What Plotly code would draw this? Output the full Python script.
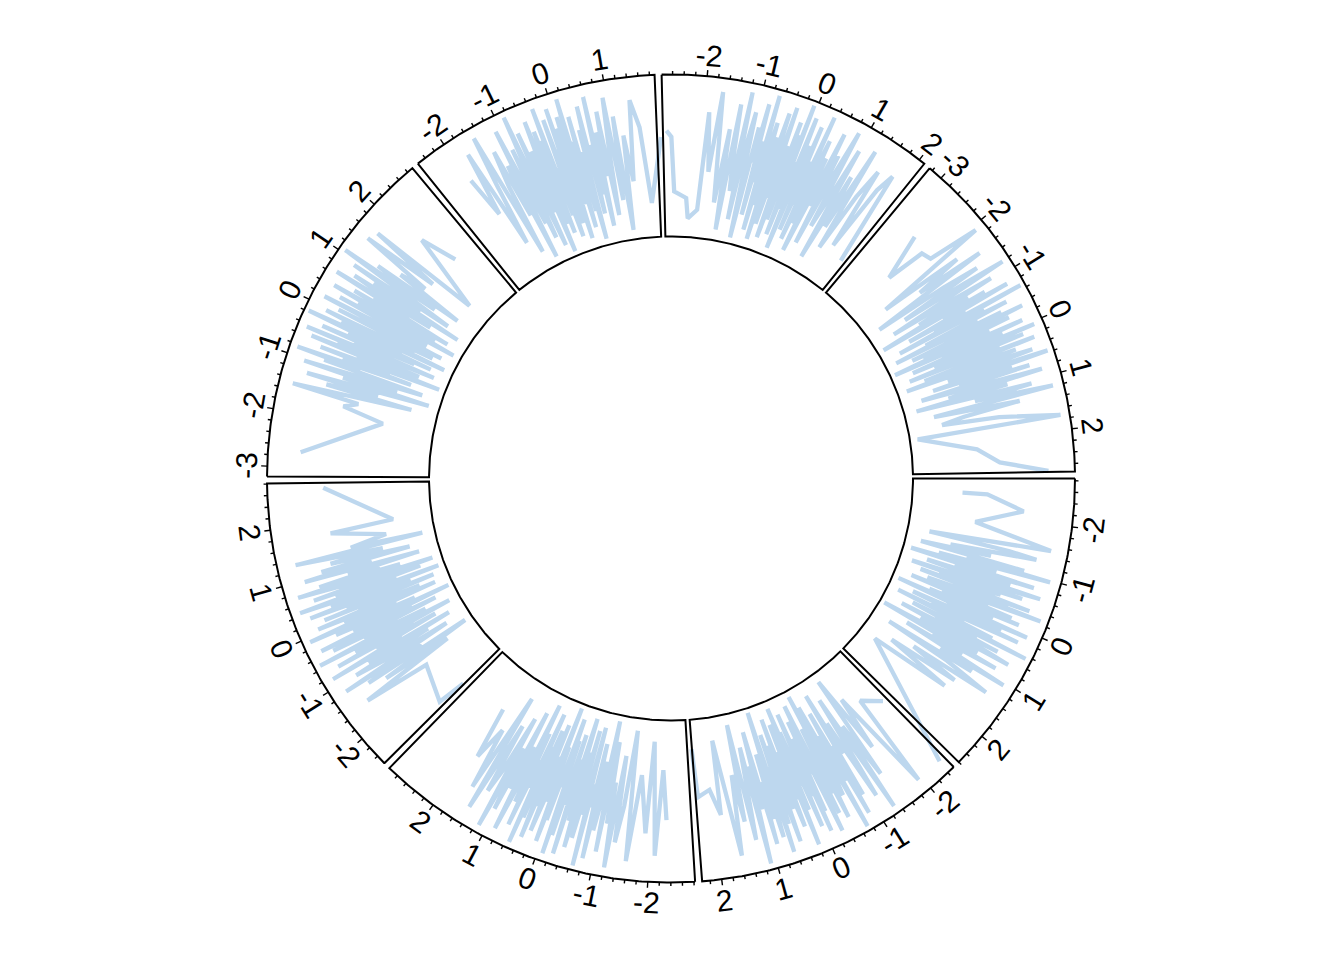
import numpy as np
import plotly.graph_objects as go

# ---------------- data ----------------
SECTORS = ["a", "b", "c", "d", "e", "f", "g", "h"]
XLIM_MIN = [-2.84, -2.54, -2.82, -2.57, -3.18, -2.56, -2.79, -3.26]
XLIM_MAX = [2.60, 2.34, 2.99, 2.81, 2.91, 1.89, 2.11, 2.74]
MAJOR_TICKS = [
    [-2, -1, 0, 1, 2],
    [-2, -1, 0, 1, 2],
    [-2, -1, 0, 1, 2],
    [-2, -1, 0, 1, 2],
    [-3, -2, -1, 0, 1, 2],
    [-2, -1, 0, 1],
    [-2, -1, 0, 1, 2],
    [-3, -2, -1, 0, 1, 2],
]
TICK_LABELS = [[str(v) for v in t] for t in MAJOR_TICKS]

a_x = [-2.50, -2.49, -2.19, -1.85, -1.52, -1.43, -1.36, -1.31, -1.22, -1.18,
       -1.13, -1.05, -1.03, -0.97, -0.95, -0.89, -0.88, -0.81, -0.79, -0.77,
       -0.71, -0.70, -0.64, -0.63, -0.58, -0.55, -0.53, -0.48, -0.47, -0.42,
       -0.41, -0.36, -0.33, -0.32, -0.27, -0.26, -0.21, -0.18, -0.17, -0.12,
       -0.11, -0.06, -0.05, -0.02, 0.03, 0.04, 0.09, 0.10, 0.15, 0.16,
       0.21, 0.24, 0.25, 0.30, 0.33, 0.34, 0.39, 0.42, 0.45, 0.47,
       0.52, 0.55, 0.57, 0.62, 0.64, 0.69, 0.71, 0.77, 0.78, 0.84,
       0.86, 0.92, 0.96, 0.99, 1.05, 1.08, 1.15, 1.21, 1.24, 1.33,
       1.39, 1.48, 1.57, 1.69, 1.81, 2.83]
a_y = [0.30, 0.46, 0.70, 0.40, 0.91, 0.12, 0.65, 0.83, 0.27, 0.54,
       0.08, 0.77, 0.39, 0.95, 0.21, 0.60, 0.03, 0.48, 0.86, 0.33,
       0.71, 0.15, 0.58, 0.92, 0.44, 0.06, 0.81, 0.25, 0.67, 0.50,
       0.13, 0.88, 0.36, 0.74, 0.19, 0.97, 0.42, 0.62, 0.09, 0.79,
       0.31, 0.56, 0.85, 0.23, 0.68, 0.02, 0.49, 0.93, 0.37, 0.76,
       0.14, 0.59, 0.89, 0.28, 0.52, 0.05, 0.73, 0.41, 0.98, 0.17,
       0.64, 0.34, 0.80, 0.11, 0.57, 0.90, 0.26, 0.69, 0.45, 0.01,
       0.84, 0.38, 0.61, 0.20, 0.94, 0.47, 0.72, 0.10, 0.55, 0.87,
       0.32, 0.66, 0.18, 0.63, 0.09, 0.93]

b_x = [-2.44, -2.05, -1.93, -1.71, -1.62, -1.50, -1.44, -1.35, -1.30, -1.24,
       -1.17, -1.14, -1.08, -1.02, -1.00, -0.94, -0.90, -0.86, -0.84, -0.78,
       -0.75, -0.72, -0.67, -0.65, -0.60, -0.57, -0.55, -0.50, -0.48, -0.44,
       -0.40, -0.38, -0.35, -0.30, -0.29, -0.25, -0.23, -0.19, -0.16, -0.13,
       -0.11, -0.08, -0.04, -0.02, 0.01, 0.05, 0.07, 0.11, 0.12, 0.17,
       0.19, 0.22, 0.26, 0.28, 0.31, 0.36, 0.37, 0.41, 0.44, 0.48,
       0.50, 0.54, 0.58, 0.60, 0.65, 0.67, 0.72, 0.75, 0.79, 0.82,
       0.87, 0.90, 0.95, 1.00, 1.03, 1.10, 1.13, 1.20, 1.26, 1.32,
       1.40, 1.47, 1.58, 1.79, 1.85, 2.02, 2.29, 2.35]
b_y = [0.40, 0.30, 0.93, 0.22, 0.58, 0.04, 0.75, 0.36, 0.97, 0.14,
       0.62, 0.85, 0.29, 0.51, 0.07, 0.80, 0.43, 0.92, 0.18, 0.67,
       0.33, 0.99, 0.11, 0.56, 0.74, 0.02, 0.47, 0.88, 0.24, 0.70,
       0.39, 0.83, 0.06, 0.61, 0.94, 0.16, 0.53, 0.27, 0.78, 0.45,
       0.91, 0.09, 0.66, 0.35, 0.86, 0.20, 0.57, 0.03, 0.73, 0.48,
       0.96, 0.13, 0.64, 0.31, 0.82, 0.42, 0.08, 0.69, 0.25, 0.90,
       0.55, 0.17, 0.77, 0.38, 0.95, 0.01, 0.60, 0.84, 0.28, 0.71,
       0.46, 0.87, 0.12, 0.63, 0.34, 0.98, 0.21, 0.52, 0.81, 0.05,
       0.68, 0.37, 0.89, 0.13, 0.61, 0.44, 0.48, 0.17]

c_x = [-2.31, -2.22, -2.10, -1.97, -1.90, -1.72, -1.58, -1.49, -1.41, -1.33,
       -1.29, -1.21, -1.15, -1.12, -1.06, -1.01, -0.96, -0.93, -0.88, -0.85,
       -0.80, -0.76, -0.74, -0.69, -0.66, -0.62, -0.59, -0.57, -0.52, -0.49,
       -0.46, -0.43, -0.39, -0.37, -0.33, -0.30, -0.27, -0.24, -0.20, -0.18,
       -0.15, -0.11, -0.09, -0.06, -0.03, 0.00, 0.04, 0.06, 0.09, 0.13,
       0.15, 0.18, 0.21, 0.25, 0.27, 0.31, 0.33, 0.37, 0.40, 0.43,
       0.47, 0.49, 0.53, 0.56, 0.60, 0.63, 0.67, 0.70, 0.74, 0.78,
       0.81, 0.86, 0.89, 0.94, 0.99, 1.03, 1.09, 1.14, 1.19, 1.25,
       1.31, 1.37, 1.45, 1.53, 1.60, 1.72, 1.85, 1.99]
c_y = [0.62, 0.30, 0.85, 0.12, 0.71, 0.34, 0.90, 0.06, 0.55, 0.79,
       0.23, 0.96, 0.41, 0.68, 0.15, 0.87, 0.02, 0.50, 0.74, 0.29,
       0.93, 0.18, 0.60, 0.45, 0.99, 0.08, 0.66, 0.37, 0.82, 0.11,
       0.57, 0.89, 0.26, 0.72, 0.04, 0.48, 0.95, 0.32, 0.63, 0.16,
       0.84, 0.39, 0.97, 0.21, 0.53, 0.07, 0.76, 0.44, 0.91, 0.27,
       0.65, 0.01, 0.58, 0.86, 0.35, 0.70, 0.14, 0.92, 0.47, 0.19,
       0.80, 0.31, 0.98, 0.09, 0.61, 0.42, 0.88, 0.24, 0.73, 0.05,
       0.52, 0.94, 0.36, 0.67, 0.13, 0.83, 0.40, 0.97, 0.20, 0.59,
       0.75, 0.28, 0.90, 0.10, 0.78, 0.37, 0.60, 0.26]

d_x = [-2.55, -2.47, -1.65, -1.52, -1.44, -1.38, -1.31, -1.26, -1.20, -1.16,
       -1.10, -1.06, -1.01, -0.97, -0.92, -0.89, -0.85, -0.81, -0.77, -0.74,
       -0.70, -0.67, -0.63, -0.61, -0.56, -0.53, -0.51, -0.46, -0.44, -0.40,
       -0.37, -0.34, -0.31, -0.28, -0.25, -0.22, -0.20, -0.16, -0.14, -0.10,
       -0.08, -0.05, -0.02, 0.01, 0.03, 0.07, 0.09, 0.12, 0.16, 0.18,
       0.22, 0.24, 0.27, 0.31, 0.33, 0.37, 0.40, 0.42, 0.46, 0.49,
       0.52, 0.56, 0.59, 0.62, 0.66, 0.69, 0.73, 0.76, 0.80, 0.84,
       0.88, 0.93, 0.97, 1.02, 1.07, 1.12, 1.18, 1.24, 1.31, 1.40,
       1.41, 1.55, 1.69, 1.78, 1.88, 2.71]
d_y = [0.30, 0.49, 0.40, 0.84, 0.19, 0.66, 0.03, 0.77, 0.35, 0.92,
       0.14, 0.58, 0.81, 0.26, 0.70, 0.09, 0.95, 0.43, 0.61, 0.17,
       0.88, 0.32, 0.74, 0.05, 0.53, 0.98, 0.21, 0.65, 0.40, 0.86,
       0.12, 0.57, 0.93, 0.28, 0.69, 0.01, 0.46, 0.80, 0.24, 0.63,
       0.97, 0.36, 0.72, 0.08, 0.51, 0.89, 0.18, 0.60, 0.34, 0.83,
       0.07, 0.67, 0.44, 0.91, 0.22, 0.76, 0.02, 0.55, 0.96, 0.30,
       0.71, 0.13, 0.85, 0.47, 0.04, 0.62, 0.94, 0.25, 0.79, 0.38,
       0.59, 0.11, 0.87, 0.42, 0.75, 0.16, 0.68, 0.33, 0.90, 0.06,
       0.53, 0.29, 0.47, 0.64, 0.23, 0.66]

e_x = [-2.72, -1.90, -1.70, -1.58, -1.49, -1.41, -1.35, -1.28, -1.24, -1.18,
       -1.13, -1.09, -1.04, -0.99, -0.96, -0.91, -0.87, -0.84, -0.80, -0.77,
       -0.73, -0.70, -0.66, -0.63, -0.60, -0.57, -0.54, -0.50, -0.48, -0.45,
       -0.41, -0.39, -0.35, -0.33, -0.29, -0.26, -0.24, -0.21, -0.18, -0.15,
       -0.13, -0.10, -0.07, -0.04, -0.02, 0.01, 0.04, 0.07, 0.09, 0.12,
       0.15, 0.17, 0.20, 0.23, 0.26, 0.29, 0.32, 0.34, 0.38, 0.41,
       0.43, 0.47, 0.50, 0.53, 0.56, 0.60, 0.63, 0.66, 0.70, 0.73,
       0.77, 0.81, 0.84, 0.89, 0.93, 0.97, 1.02, 1.06, 1.12, 1.17,
       1.23, 1.30, 1.38, 1.47, 1.57, 1.65, 1.74, 2.12, 2.33]
e_y = [0.81, 0.31, 0.58, 0.49, 0.93, 0.15, 0.72, 0.38, 0.86, 0.05,
       0.63, 0.27, 0.90, 0.44, 0.11, 0.78, 0.54, 0.97, 0.20, 0.67,
       0.35, 0.83, 0.02, 0.59, 0.46, 0.91, 0.17, 0.74, 0.30, 0.96,
       0.08, 0.64, 0.41, 0.87, 0.23, 0.70, 0.12, 0.55, 0.99, 0.33,
       0.77, 0.04, 0.61, 0.89, 0.26, 0.50, 0.14, 0.82, 0.37, 0.68,
       0.09, 0.94, 0.43, 0.57, 0.21, 0.85, 0.31, 0.73, 0.03, 0.62,
       0.92, 0.18, 0.48, 0.79, 0.10, 0.66, 0.40, 0.95, 0.25, 0.58,
       0.84, 0.06, 0.71, 0.36, 0.88, 0.16, 0.52, 0.98, 0.29, 0.75,
       0.13, 0.60, 0.42, 0.91, 0.40, 0.88, 0.13, 0.64, 0.40]

f_x = [-1.96, -1.85, -1.74, -1.66, -1.57, -1.50, -1.42, -1.37, -1.30, -1.25,
       -1.19, -1.15, -1.10, -1.06, -1.01, -0.97, -0.93, -0.89, -0.86, -0.82,
       -0.78, -0.75, -0.71, -0.68, -0.65, -0.61, -0.58, -0.55, -0.52, -0.49,
       -0.46, -0.43, -0.40, -0.37, -0.34, -0.31, -0.28, -0.25, -0.22, -0.19,
       -0.17, -0.14, -0.11, -0.08, -0.05, -0.03, 0.00, 0.03, 0.06, 0.09,
       0.12, 0.15, 0.18, 0.21, 0.24, 0.27, 0.30, 0.34, 0.37, 0.40,
       0.44, 0.47, 0.51, 0.55, 0.59, 0.63, 0.67, 0.72, 0.77, 0.82,
       0.87, 0.93, 0.99, 1.06, 1.13, 1.21, 1.30, 1.41, 1.55, 1.69,
       1.83, 1.97]
f_y = [0.73, 0.45, 0.88, 0.20, 0.62, 0.95, 0.10, 0.57, 0.81, 0.34,
       0.69, 0.03, 0.92, 0.48, 0.25, 0.77, 0.14, 0.59, 0.98, 0.39,
       0.07, 0.85, 0.53, 0.29, 0.71, 0.01, 0.64, 0.90, 0.19, 0.46,
       0.82, 0.12, 0.75, 0.37, 0.96, 0.23, 0.55, 0.08, 0.87, 0.42,
       0.66, 0.16, 0.93, 0.31, 0.79, 0.05, 0.58, 0.86, 0.27, 0.50,
       0.97, 0.11, 0.68, 0.36, 0.84, 0.21, 0.60, 0.02, 0.74, 0.45,
       0.89, 0.18, 0.63, 0.30, 0.94, 0.09, 0.70, 0.41, 0.83, 0.15,
       0.56, 0.91, 0.24, 0.78, 0.04, 0.65, 0.35, 0.87, 0.69, 0.20,
       0.39, 0.62]

g_x = [-2.72, -2.62, -2.55, -2.25, -2.18, -1.95, -1.90, -1.78, -1.69, -1.55,
       -1.46, -1.39, -1.33, -1.28, -1.22, -1.17, -1.12, -1.08, -1.03, -0.99,
       -0.95, -0.91, -0.87, -0.83, -0.80, -0.76, -0.72, -0.69, -0.65, -0.62,
       -0.59, -0.55, -0.52, -0.49, -0.46, -0.43, -0.39, -0.36, -0.33, -0.30,
       -0.27, -0.24, -0.21, -0.18, -0.15, -0.12, -0.09, -0.06, -0.03, 0.00,
       0.03, 0.06, 0.09, 0.12, 0.15, 0.18, 0.21, 0.25, 0.28, 0.31,
       0.35, 0.38, 0.42, 0.45, 0.49, 0.53, 0.56, 0.60, 0.64, 0.68,
       0.72, 0.77, 0.81, 0.86, 0.91, 0.96, 1.02, 1.08, 1.14, 1.21,
       1.28, 1.36, 1.44, 1.53, 1.62, 1.71, 1.80, 2.00]
g_y = [0.66, 0.62, 0.27, 0.23, 0.10, 0.16, 0.79, 0.41, 0.93, 0.22,
       0.70, 0.05, 0.87, 0.48, 0.31, 0.96, 0.13, 0.60, 0.84, 0.36,
       0.02, 0.75, 0.52, 0.91, 0.18, 0.67, 0.40, 0.98, 0.09, 0.57,
       0.81, 0.26, 0.72, 0.04, 0.63, 0.89, 0.15, 0.46, 0.94, 0.33,
       0.69, 0.07, 0.55, 0.86, 0.20, 0.78, 0.38, 0.99, 0.11, 0.61,
       0.29, 0.92, 0.50, 0.03, 0.74, 0.43, 0.88, 0.17, 0.65, 0.35,
       0.97, 0.12, 0.58, 0.82, 0.24, 0.71, 0.06, 0.53, 0.90, 0.39,
       0.76, 0.14, 0.64, 0.95, 0.28, 0.49, 0.85, 0.08, 0.68, 0.32,
       0.90, 0.19, 0.59, 0.80, 0.25, 0.70, 0.83, 0.20]

h_x = [-2.60, -2.34, -2.25, -2.05, -1.92, -1.80, -1.71, -1.62, -1.55, -1.47,
       -1.41, -1.35, -1.30, -1.24, -1.19, -1.15, -1.10, -1.05, -1.01, -0.97,
       -0.93, -0.89, -0.85, -0.81, -0.78, -0.74, -0.70, -0.67, -0.63, -0.60,
       -0.56, -0.53, -0.50, -0.47, -0.44, -0.40, -0.37, -0.34, -0.31, -0.28,
       -0.25, -0.22, -0.19, -0.16, -0.13, -0.10, -0.07, -0.04, -0.01, 0.02,
       0.05, 0.08, 0.11, 0.14, 0.17, 0.20, 0.23, 0.26, 0.30, 0.33,
       0.36, 0.39, 0.43, 0.46, 0.50, 0.53, 0.57, 0.61, 0.64, 0.68,
       0.72, 0.76, 0.81, 0.85, 0.90, 0.95, 1.00, 1.06, 1.12, 1.19,
       1.26, 1.33, 1.41, 1.50, 1.57, 1.73, 1.76, 2.20, 2.52, 2.72]
h_y = [0.63, 0.33, 0.59, 0.61, 0.95, 0.18, 0.74, 0.42, 0.88, 0.07,
       0.56, 0.81, 0.24, 0.69, 0.97, 0.13, 0.50, 0.85, 0.30, 0.66,
       0.02, 0.77, 0.45, 0.92, 0.19, 0.60, 0.36, 0.99, 0.10, 0.71,
       0.53, 0.86, 0.27, 0.64, 0.05, 0.80, 0.39, 0.94, 0.15, 0.58,
       0.83, 0.22, 0.68, 0.01, 0.48, 0.90, 0.33, 0.75, 0.12, 0.62,
       0.96, 0.26, 0.54, 0.87, 0.08, 0.70, 0.41, 0.93, 0.17, 0.57,
       0.79, 0.04, 0.65, 0.89, 0.31, 0.51, 0.98, 0.20, 0.73, 0.37,
       0.84, 0.11, 0.60, 0.91, 0.28, 0.67, 0.06, 0.82, 0.44, 0.95,
       0.16, 0.72, 0.35, 0.20, 0.57, 0.96, 0.03, 0.40, 0.54, 0.85]

LINE_X = [a_x, b_x, c_x, d_x, e_x, f_x, g_x, h_x]
LINE_Y = [a_y, b_y, c_y, d_y, e_y, f_y, g_y, h_y]

# ---------------- layout of the circle ----------------
GAP_DEG = 1.0
START_DEG = 0.0
R_OUT = 404.0
R_IN = 242.0
LABEL_R = 425.0
MAJOR_LEN = 6.0
MINOR_LEN = 3.5
LINE_COLOR = "#BDD7EE"
FONT_SIZE = 30

widths = [mx - mn for mn, mx in zip(XLIM_MIN, XLIM_MAX)]
deg_per_unit = (360.0 - GAP_DEG * len(SECTORS)) / sum(widths)
starts = []
acc = START_DEG
for w in widths:
    starts.append(acc)
    acc -= w * deg_per_unit + GAP_DEG


def theta(i, x):
    return starts[i] - (np.asarray(x, dtype=float) - XLIM_MIN[i]) * deg_per_unit


def radius(y):
    return R_IN + (R_OUT - R_IN) * (np.asarray(y, dtype=float) + 0.02) / 1.04


def to_xy(th_deg, r):
    t = np.radians(th_deg)
    return r * np.cos(t), r * np.sin(t)


fig = go.Figure()

# data lines
for i in range(len(SECTORS)):
    X, Y = to_xy(theta(i, LINE_X[i]), radius(LINE_Y[i]))
    fig.add_trace(go.Scatter(x=X, y=Y, mode="lines",
                             line=dict(color=LINE_COLOR, width=4.3),
                             hoverinfo="skip", showlegend=False))

# sector borders
bx, by = [], []
for i in range(len(SECTORS)):
    t0 = starts[i]
    t1 = theta(i, XLIM_MAX[i])
    arc = np.linspace(t0, t1, 120)
    ox, oy = to_xy(arc, R_OUT)
    ix, iy = to_xy(arc[::-1], R_IN)
    xs = np.concatenate([ox, ix, ox[:1]])
    ys = np.concatenate([oy, iy, oy[:1]])
    bx += list(xs) + [None]
    by += list(ys) + [None]
fig.add_trace(go.Scatter(x=bx, y=by, mode="lines",
                         line=dict(color="black", width=2.0),
                         hoverinfo="skip", showlegend=False))

# axis ticks and labels
tx, ty = [], []
annotations = []
for i in range(len(SECTORS)):
    lo = int(np.ceil(XLIM_MIN[i] * 5 - 1e-9))
    hi = int(np.floor(XLIM_MAX[i] * 5 + 1e-9))
    for k in range(lo, hi + 1):
        v = k / 5.0
        th = float(theta(i, v))
        ln = MAJOR_LEN if k % 5 == 0 else MINOR_LEN
        x0, y0 = to_xy(th, R_OUT)
        x1, y1 = to_xy(th, R_OUT + ln)
        tx += [x0, x1, None]
        ty += [y0, y1, None]
    for v, lab in zip(MAJOR_TICKS[i], TICK_LABELS[i]):
        th = float(theta(i, v))
        lx, ly = to_xy(th, LABEL_R)
        tn = ((th + 180.0) % 360.0) - 180.0
        rot = 90.0 - tn if tn > 0 else -90.0 - tn
        annotations.append(dict(x=lx, y=ly, xref="x", yref="y", text=lab,
                                showarrow=False, textangle=rot,
                                xanchor="center", yanchor="middle",
                                font=dict(family="Liberation Sans, Arial",
                                          size=FONT_SIZE, color="black")))
fig.add_trace(go.Scatter(x=tx, y=ty, mode="lines",
                         line=dict(color="black", width=1.4),
                         hoverinfo="skip", showlegend=False))

fig.update_layout(
    width=1344, height=960,
    margin=dict(l=0, r=0, t=0, b=0),
    paper_bgcolor="white", plot_bgcolor="white",
    xaxis=dict(range=[-671, 673], visible=False, fixedrange=True),
    yaxis=dict(range=[-481.5, 478.5], visible=False, fixedrange=True),
    annotations=annotations,
    showlegend=False,
)

fig.write_html("out.html")
